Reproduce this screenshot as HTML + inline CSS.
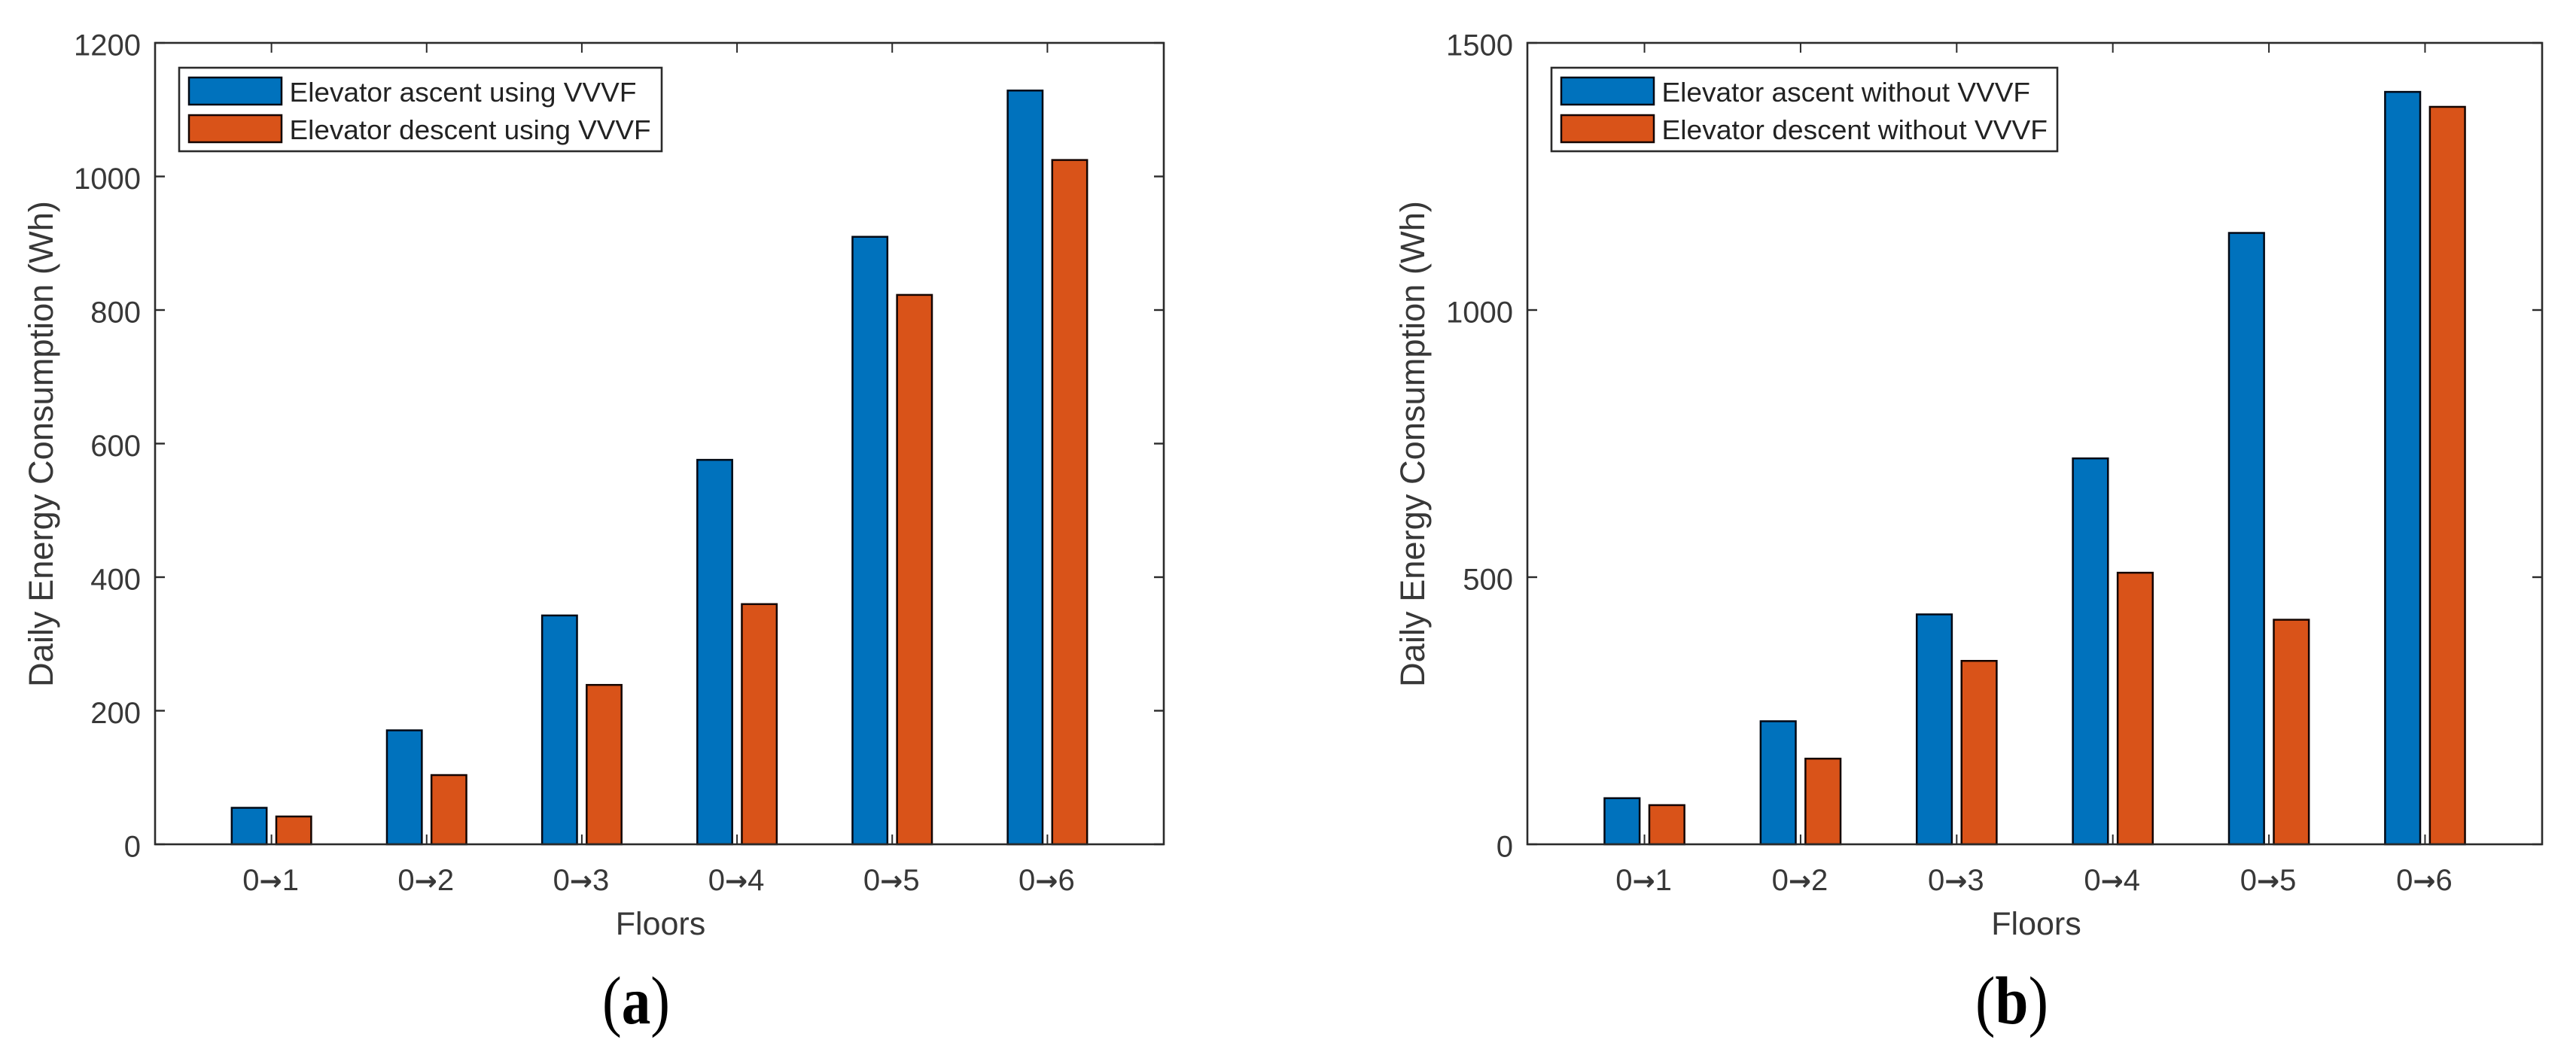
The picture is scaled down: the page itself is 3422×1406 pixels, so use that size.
<!DOCTYPE html>
<html lang="en">
<head>
<meta charset="utf-8">
<title>Daily elevator energy consumption</title>
<style>
  html, body { margin: 0; padding: 0; background: #ffffff; }
  svg { display: block; }
  text { font-family: "Liberation Sans", Arial, sans-serif; fill: #383838; }
  .arrow { font-family: "DejaVu Sans", sans-serif; font-weight: bold; }
  .caption { font-family: "Liberation Serif", "Times New Roman", serif; fill: #000000; }
</style>
</head>
<body>
<svg id="figure" xmlns="http://www.w3.org/2000/svg" width="3422" height="1406" viewBox="0 0 3422 1406">
  <rect x="0" y="0" width="3422" height="1406" fill="#ffffff"/>
  <g id="panel-a"></g>
  <g id="panel-b"></g>
  <text class="caption" x="800" y="1360" font-size="90" textLength="90" lengthAdjust="spacingAndGlyphs">(<tspan font-weight="bold">a</tspan>)</text>
  <text class="caption" x="2624" y="1360" font-size="90" textLength="97" lengthAdjust="spacingAndGlyphs">(<tspan font-weight="bold">b</tspan>)</text>
</svg>
<script>
const categories = ['0→1', '0→2', '0→3', '0→4', '0→5', '0→6'];
const ascentUsingVvvf = [56, 172, 344, 577, 911, 1130];
const descentUsingVvvf = [43, 105, 240, 361, 824, 1026];
const ascentWithoutVvvf = [88, 232, 432, 724, 1146, 1410];
const descentWithoutVvvf = [75, 162, 345, 510, 422, 1382];
const yTicksA = [0, 200, 400, 600, 800, 1000, 1200];
const yTicksB = [0, 500, 1000, 1500];

const NS = 'http://www.w3.org/2000/svg';
const BLUE = '#0072BD';
const ORANGE = '#D95319';
const AXIS = '#2b2b2b';

function make(parent, tag, attrs, txt) {
  const el = document.createElementNS(NS, tag);
  for (const k in attrs) el.setAttribute(k, attrs[k]);
  if (txt !== undefined) el.textContent = txt;
  parent.appendChild(el);
  return el;
}

function drawPanel(root, o) {
  const top = 57, bottom = 1122;
  const xMin = 0.25, xMax = 6.75;
  const yMax = o.yTicks[o.yTicks.length - 1];
  const xScale = function (u) { return o.left + (u - xMin) / (xMax - xMin) * (o.right - o.left); };
  const yScale = function (v) { return bottom - v / yMax * (bottom - top); };
  const barW = 0.225, barOff = 0.1435;

  // bars
  categories.forEach(function (cat, i) {
    const pos = i + 1;
    const x1 = xScale(pos - barOff - barW / 2);
    const x2 = xScale(pos + barOff - barW / 2);
    const w = xScale(pos + barW) - xScale(pos);
    const asc = make(root, 'rect', { x: x1, y: yScale(o.ascent[i]) + 1.2, width: w, height: bottom - yScale(o.ascent[i]) - 1.2, fill: BLUE, stroke: '#000814', 'stroke-width': 2.5 });
    
    
    const desc = make(root, 'rect', { x: x2, y: yScale(o.descent[i]) + 1.2, width: w, height: bottom - yScale(o.descent[i]) - 1.2, fill: ORANGE, stroke: '#140400', 'stroke-width': 2.5 });
    
    
  });

  // axes box
  const box = make(root, 'rect', { x: o.left, y: top, width: o.right - o.left, height: bottom - top, fill: 'none', stroke: AXIS, 'stroke-width': 2.6 });
  
  

  // x ticks and labels
  categories.forEach(function (cat, i) {
    const x = xScale(i + 1);
    const tb = make(root, 'line', { x1: x, x2: x, y1: bottom, y2: bottom - 13, stroke: AXIS, 'stroke-width': 2 });
    
    
    const tt = make(root, 'line', { x1: x, x2: x, y1: top, y2: top + 13, stroke: AXIS, 'stroke-width': 2 });
    
    
    const lab = make(root, 'text', { x: x - 1, y: 1183, 'font-size': 40, 'text-anchor': 'middle' });
    
    
    const parts = cat.split('→');
    make(lab, 'tspan', {}, parts[0]);
    make(lab, 'tspan', { class: 'arrow', 'font-size': 36 }, '→');
    make(lab, 'tspan', {}, parts[1]);
  });

  // y ticks and labels
  o.yTicks.forEach(function (v) {
    const y = yScale(v);
    const tl = make(root, 'line', { x1: o.left, x2: o.left + 13, y1: y, y2: y, stroke: AXIS, 'stroke-width': 2.4 });
    
    
    const tr = make(root, 'line', { x1: o.right, x2: o.right - 13, y1: y, y2: y, stroke: AXIS, 'stroke-width': 2.4 });
    
    
    const lab = make(root, 'text', { x: o.left - 19, y: y + 16.5, 'font-size': 40, 'text-anchor': 'end' }, String(v));
    
    
  });

  // axis titles
  const xt = make(root, 'text', { x: o.floorsX, y: 1242, 'font-size': 43, 'text-anchor': 'middle' }, 'Floors');
  
  
  const yt = make(root, 'text', { transform: 'translate(' + o.yTitleX + ' 590) rotate(-90)', x: 0, y: 0, 'font-size': 45, 'text-anchor': 'middle', textLength: 646, lengthAdjust: 'spacingAndGlyphs' }, 'Daily Energy Consumption (Wh)');
  
  

  // legend
  const lg = make(root, 'g', {});
  
  
  const lb = make(lg, 'rect', { x: o.legendLeft, y: 90, width: o.legendRight - o.legendLeft, height: 111, fill: '#ffffff', stroke: AXIS, 'stroke-width': 2.6 });
  
  
  const sw1 = make(lg, 'rect', { x: o.legendLeft + 13, y: 103, width: 123, height: 36, fill: BLUE, stroke: '#000814', 'stroke-width': 2.5 });
  
  
  const sw2 = make(lg, 'rect', { x: o.legendLeft + 13, y: 153, width: 123, height: 36, fill: ORANGE, stroke: '#140400', 'stroke-width': 2.5 });
  
  
  const t1 = make(lg, 'text', { x: o.legendLeft + 146.5, y: 135, 'font-size': 36, textLength: o.legendLen1, lengthAdjust: 'spacingAndGlyphs', style: 'fill:#222222' }, o.legendText1);
  
  
  const t2 = make(lg, 'text', { x: o.legendLeft + 146.5, y: 185, 'font-size': 36, textLength: o.legendLen2, lengthAdjust: 'spacingAndGlyphs', style: 'fill:#222222' }, o.legendText2);
  
  
}

drawPanel(document.getElementById('panel-a'), {
  left: 206, right: 1546, ascent: ascentUsingVvvf, descent: descentUsingVvvf, yTicks: yTicksA,
  floorsX: 877.5, yTitleX: 70, legendLeft: 238, legendRight: 879,
  legendText1: 'Elevator ascent using VVVF', legendText2: 'Elevator descent using VVVF',
  legendLen1: 461, legendLen2: 480
});
drawPanel(document.getElementById('panel-b'), {
  left: 2029, right: 3377, ascent: ascentWithoutVvvf, descent: descentWithoutVvvf, yTicks: yTicksB,
  floorsX: 2705, yTitleX: 1892, legendLeft: 2061, legendRight: 2733,
  legendText1: 'Elevator ascent without VVVF', legendText2: 'Elevator descent without VVVF',
  legendLen1: 489.5, legendLen2: 512.5
});
</script>
</body>
</html>
